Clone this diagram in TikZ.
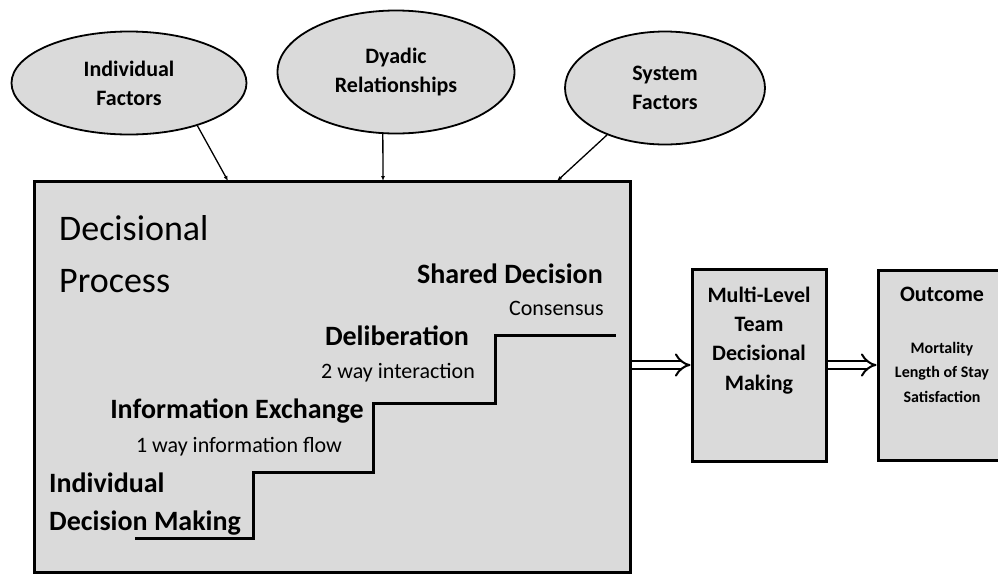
\documentclass[tikz,border=0pt]{standalone}
\usepackage{fontspec}
\setmainfont{Carlito}
\usetikzlibrary{arrows.meta,shapes.geometric}
\definecolor{boxgray}{rgb}{.855,.855,.855}
\tikzset{
  % grey bubbles for the influencing factors
  factor/.style={ellipse,draw=black,line width=1.8pt,fill=boxgray,inner sep=0pt,
    align=center,font=\bfseries\fontsize{22}{29}\selectfont},
  % thick framed boxes
  stage/.style={rectangle,draw=black,line width=3pt,fill=boxgray,inner sep=0pt},
  % step labels on the staircase
  steplbl/.style={inner sep=0pt,font=\bfseries\fontsize{28}{38}\selectfont},
  stepsub/.style={inner sep=0pt,font=\fontsize{22}{26}\selectfont},
  feed/.style={line width=1.3pt,-{Latex[length=5pt,width=4pt]}},
  flow/.style={double=white,double distance=6pt,line width=2pt,-{Implies}},
}

\begin{document}
\begin{tikzpicture}[x=1pt,y=-1pt]
\useasboundingbox (0,0) rectangle (998,574);
\clip (0,0) rectangle (998,574);

% factors
\node[factor,minimum width=235,minimum height=103] (indf) at (129,83) {Individual\\Factors};
\node[factor,minimum width=237,minimum height=123] (dyad) at (396,72) {Dyadic\\Relationships};
\node[factor,minimum width=200,minimum height=113] (sysf) at (665,88) {System\\Factors};

% decisional process box
\node[stage,minimum width=596,minimum height=391] (proc) at (332.5,376.5) {};
\coordinate (t1) at (228,181);
\coordinate (t2) at (383,181);
\coordinate (t3) at (557,181);
\draw[feed] (indf.-32) -- (t1);
\draw[feed] (dyad.-102) -- (t2);
\draw[feed] (sysf.-141) -- (t3);

% (multi-line nodes: base anchor sits on the last line)
\node[anchor=base west,inner sep=0pt,align=left,font=\fontsize{36}{52}\selectfont] (title) at (59,292) {Decisional\\Process};

% staircase
\draw[line width=3pt] (135,538) -- (253,538) -- (253,472) -- (373,472) -- (373,403)
  -- (495,403) -- (495,335) -- (616,335);

\node[steplbl,anchor=base east] (shared) at (603,283) {Shared Decision};
\node[stepsub,anchor=base east] (cons) at (604,315) {Consensus};
\node[steplbl,anchor=base] (delib) at (397,345) {Deliberation};
\node[stepsub,anchor=base] (twoway) at (398,378) {2 way interaction};
\node[steplbl,anchor=base] (infex) at (237,418) {Information Exchange};
\node[stepsub,anchor=base] (oneway) at (239,452) {1 way information flow};
\node[steplbl,anchor=base west,align=left] (indiv) at (49,530) {Individual\\Decision Making};

% team level and outcome
\node[stage,minimum width=134,minimum height=192] (team) at (759,365) {};
\node[anchor=base,inner sep=0pt,align=center,font=\bfseries\fontsize{22}{29.3}\selectfont] (teamtxt) at (759,390) {Multi-Level\\Team\\Decisional\\Making};

\node[stage,minimum width=134,minimum height=190] (outc) at (945,365) {};
\node[anchor=base,inner sep=0pt,font=\bfseries\fontsize{22}{26}\selectfont] (outctxt) at (942,301) {Outcome};
\node[anchor=base,inner sep=0pt,align=center,font=\bfseries\fontsize{16}{24.5}\selectfont] (outclist) at (942,402) {Mortality\\Length of Stay\\Satisfaction};

\draw[flow] (proc.east |- team.west) -- (team.west);
\draw[flow] (team.east) -- (outc.west);

\end{tikzpicture}
\end{document}
